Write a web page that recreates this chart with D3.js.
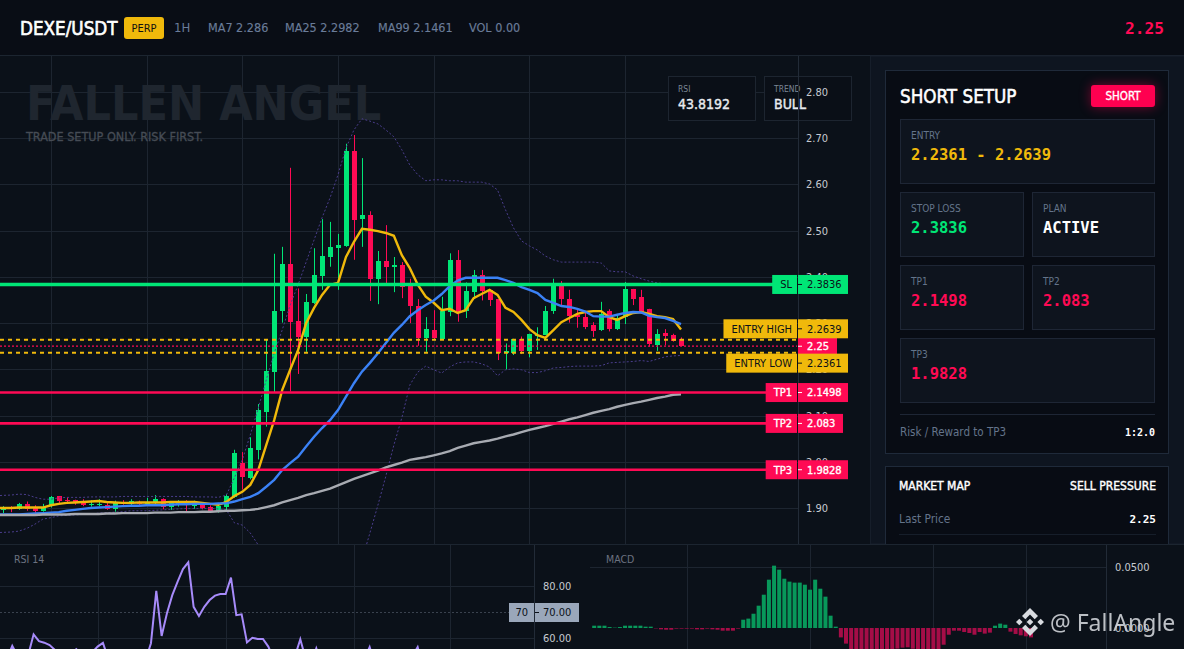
<!DOCTYPE html>
<html lang="en">
<head>
<meta charset="UTF-8">
<title>DEXE/USDT short setup</title>
<script src="https://d3js.org/d3.v7.min.js"></script>
<style>
  html, body { margin: 0; padding: 0; background: #0b1119; overflow: hidden; }
  svg { display: block; }
  text { font-family: "DejaVu Sans Condensed", "DejaVu Sans", sans-serif; }
  .mono { font-family: "DejaVu Sans Mono", monospace; font-weight: bold; }
</style>
</head>
<body>
<div id="chart"></div>
<script>
  // candles
  const opens = [1.895,1.901,1.897,1.909,1.901,1.894,1.904,1.926,1.918,1.917,1.914,1.907,1.907,1.907,1.898,1.914,1.909,1.914,1.909,1.911,1.919,1.902,1.909,1.911,1.905,1.908,1.902,1.893,1.902,1.923,1.997,1.965,2.026,2.108,2.194,2.326,2.428,2.305,2.269,2.343,2.402,2.443,2.463,2.467,2.673,2.525,2.534,2.396,2.434,2.421,2.426,2.383,2.337,2.268,2.285,2.265,2.325,2.437,2.327,2.368,2.404,2.372,2.352,2.236,2.236,2.265,2.240,2.272,2.274,2.326,2.383,2.352,2.318,2.313,2.296,2.285,2.326,2.287,2.313,2.374,2.357,2.331,2.252,2.279,2.274,2.265];
  const highs = [1.904,1.904,1.911,1.914,1.906,1.909,1.926,1.926,1.923,1.918,1.919,1.917,1.919,1.913,1.916,1.917,1.919,1.916,1.922,1.928,1.921,1.914,1.917,1.917,1.916,1.913,1.906,1.910,1.930,2.026,2.021,2.053,2.125,2.264,2.450,2.465,2.636,2.375,2.363,2.462,2.525,2.519,2.493,2.688,2.707,2.657,2.542,2.456,2.512,2.443,2.432,2.396,2.352,2.313,2.328,2.357,2.451,2.458,2.388,2.415,2.415,2.373,2.352,2.256,2.266,2.271,2.277,2.291,2.337,2.396,2.391,2.372,2.332,2.323,2.302,2.346,2.330,2.318,2.389,2.374,2.372,2.331,2.287,2.287,2.277,2.269];
  const lows = [1.889,1.891,1.896,1.894,1.890,1.892,1.901,1.909,1.910,1.907,1.904,1.903,1.904,1.896,1.892,1.907,1.906,1.906,1.906,1.908,1.897,1.896,1.903,1.891,1.898,1.897,1.891,1.890,1.892,1.922,1.940,1.962,2.005,2.076,2.150,2.301,2.152,2.190,2.238,2.341,2.372,2.422,2.372,2.465,2.437,2.465,2.348,2.341,2.383,2.367,2.354,2.300,2.251,2.238,2.264,2.264,2.315,2.303,2.311,2.356,2.349,2.337,2.220,2.200,2.231,2.233,2.226,2.242,2.274,2.320,2.339,2.301,2.290,2.287,2.270,2.283,2.282,2.285,2.298,2.339,2.320,2.249,2.240,2.252,2.260,2.250];
  const closes = [1.901,1.898,1.909,1.898,1.894,1.902,1.924,1.915,1.916,1.910,1.906,1.909,1.909,1.898,1.914,1.910,1.915,1.909,1.913,1.919,1.903,1.911,1.913,1.906,1.911,1.900,1.893,1.904,1.926,2.019,1.966,2.030,2.112,2.196,2.326,2.428,2.303,2.269,2.346,2.404,2.445,2.465,2.469,2.673,2.523,2.534,2.396,2.434,2.421,2.426,2.378,2.337,2.268,2.287,2.268,2.327,2.437,2.323,2.370,2.404,2.370,2.351,2.236,2.240,2.265,2.240,2.277,2.275,2.326,2.383,2.352,2.315,2.313,2.292,2.283,2.320,2.287,2.312,2.374,2.352,2.325,2.255,2.277,2.272,2.261,2.250];

  // moving averages and bands
  const ma7 = [1.900,1.900,1.901,1.901,1.901,1.901,1.906,1.909,1.911,1.912,1.913,1.914,1.915,1.913,1.912,1.911,1.911,1.912,1.912,1.912,1.912,1.913,1.913,1.913,1.913,1.911,1.909,1.907,1.913,1.926,1.935,1.950,1.982,2.036,2.090,2.155,2.199,2.242,2.300,2.333,2.361,2.383,2.387,2.443,2.476,2.504,2.502,2.499,2.495,2.489,2.447,2.419,2.383,2.357,2.344,2.328,2.331,2.322,2.328,2.354,2.363,2.372,2.361,2.333,2.324,2.307,2.287,2.274,2.268,2.285,2.302,2.311,2.320,2.324,2.326,2.326,2.313,2.307,2.315,2.322,2.324,2.320,2.315,2.313,2.309,2.286];
  const ma25 = [1.886,1.886,1.886,1.887,1.888,1.889,1.890,1.891,1.894,1.896,1.898,1.900,1.901,1.902,1.903,1.904,1.905,1.905,1.906,1.906,1.906,1.907,1.908,1.908,1.909,1.909,1.909,1.910,1.910,1.914,1.919,1.924,1.932,1.946,1.961,1.982,1.997,2.011,2.033,2.054,2.073,2.090,2.112,2.141,2.170,2.195,2.214,2.235,2.257,2.279,2.296,2.315,2.328,2.339,2.349,2.363,2.380,2.392,2.398,2.398,2.398,2.398,2.398,2.393,2.387,2.378,2.372,2.365,2.350,2.344,2.337,2.335,2.331,2.325,2.315,2.314,2.314,2.318,2.322,2.324,2.323,2.316,2.313,2.311,2.305,2.298];
  const ma99 = [1.885,1.885,1.885,1.885,1.885,1.886,1.886,1.886,1.886,1.887,1.887,1.887,1.887,1.888,1.888,1.889,1.889,1.889,1.889,1.890,1.890,1.890,1.891,1.891,1.891,1.892,1.892,1.893,1.894,1.894,1.895,1.896,1.898,1.902,1.906,1.912,1.917,1.922,1.928,1.932,1.937,1.942,1.949,1.956,1.963,1.969,1.975,1.981,1.988,1.993,1.998,2.004,2.007,2.010,2.014,2.018,2.023,2.030,2.035,2.040,2.043,2.046,2.050,2.055,2.059,2.064,2.069,2.073,2.077,2.082,2.087,2.092,2.096,2.101,2.106,2.110,2.114,2.119,2.123,2.127,2.130,2.134,2.138,2.141,2.145,2.146];
  const bbUpper = [1.927,1.928,1.930,1.929,1.923,1.919,1.919,1.922,1.923,1.923,1.923,1.924,1.924,1.924,1.924,1.925,1.925,1.925,1.925,1.925,1.925,1.925,1.925,1.925,1.924,1.924,1.924,1.923,1.928,1.965,2.004,2.058,2.116,2.177,2.235,2.285,2.339,2.383,2.432,2.480,2.528,2.571,2.621,2.679,2.718,2.742,2.737,2.731,2.718,2.703,2.675,2.642,2.621,2.608,2.610,2.610,2.608,2.608,2.605,2.605,2.605,2.601,2.588,2.545,2.506,2.478,2.467,2.458,2.445,2.437,2.432,2.432,2.432,2.432,2.432,2.430,2.413,2.411,2.411,2.402,2.396,2.391,2.387,2.385,2.385,2.385];
  const bbLower = [1.847,1.848,1.850,1.856,1.865,1.876,1.879,1.883,1.884,1.885,1.886,1.887,1.889,1.890,1.891,1.892,1.894,1.894,1.894,1.895,1.896,1.897,1.898,1.899,1.899,1.899,1.899,1.898,1.896,1.868,1.863,1.846,1.820,1.755,1.701,1.658,1.625,1.604,1.593,1.593,1.614,1.647,1.690,1.723,1.755,1.787,1.846,1.906,1.969,2.036,2.095,2.166,2.194,2.207,2.199,2.192,2.205,2.214,2.216,2.216,2.212,2.205,2.186,2.199,2.201,2.199,2.193,2.193,2.197,2.203,2.204,2.206,2.207,2.207,2.207,2.208,2.214,2.215,2.216,2.217,2.219,2.217,2.222,2.227,2.229,2.230];

  // lower panes
  const rsi = [50,52,57,53,50,53.5,61.4,58.8,58.2,57.3,55.4,53,51,53,55.7,54,52,54.5,56.7,58.1,52,50,48,49,47,48,49,51.5,58,78.1,60.8,69.5,76.5,81.7,86.5,89.1,72,68.5,72,74.6,76.3,76.9,76.9,83.2,68.8,69.1,58.3,60.1,59.6,59.6,56.7,52,48,47,49,53,59.5,52,50,56,50,47,45,44,46,47,48,50,52,56.5,50,46,44,43,45,47,50,53,56.5,49,46,45,47,46,44.5,43.8192];
  const macd = [0.0019,0.0019,0.0019,0.0008,0.0003,0.0008,0.0019,0.0019,0.0019,0.0019,0.0011,0.0011,-0.0003,-0.0011,-0.0014,-0.0014,-0.0005,-0.0005,-0.0005,-0.0005,-0.0011,-0.0011,-0.0005,-0.0011,-0.0014,-0.0022,-0.0022,-0.0022,-0.0005,0.0068,0.0077,0.0117,0.0183,0.0273,0.0396,0.0511,0.0478,0.0404,0.0380,0.0372,0.0372,0.0355,0.0314,0.0396,0.0322,0.0257,0.0101,0.0011,-0.0077,-0.0128,-0.0175,-0.0191,-0.0200,-0.0210,-0.0210,-0.0200,-0.0195,-0.0190,-0.0180,-0.0169,-0.0161,-0.0158,-0.0170,-0.0180,-0.0190,-0.0190,-0.0180,-0.0175,-0.0137,-0.0055,-0.0022,-0.0022,-0.0033,-0.0041,-0.0055,-0.0033,-0.0046,-0.0038,0.0019,0.0036,0.0027,-0.0030,-0.0049,-0.0060,-0.0068,-0.0077];

  // axes and levels
  const priceTicks = [1.9,2.0,2.1,2.2,2.3,2.4,2.5,2.6,2.7,2.8];
  const rsiTicks = [60,70,80];
  const macdTicks = [0,0.05];
  const mainGrid = [6,18,30,42,54,66,78];
  const lowerGrid = [18,42,66,84];
  const levelNames = ["SL","ENTRY HIGH","ENTRY LOW","TP1","TP2","TP3"];
  const levelPrices = [2.3836,2.2639,2.2361,2.1498,2.083,1.9828];
  const lastPrice = 2.25;

  const GREEN = "#00e676", RED = "#ff0a54", YELLOW = "#f0b90b";
  const GRID = "#1d2530", MUTED = "#64748b";

  const width = 1184, height = 649;
  const svg = d3.select("#chart").append("svg").attr("width", width).attr("height", height);

  const x = d3.scaleLinear().domain([0, 85]).range([3, 681]);
  const y = d3.scaleLinear().domain([1.9, 2.8]).range([508, 92]);
  const xRsi = d3.scaleLinear().domain([0, 85]).range([1.6, 455]);
  const yRsi = d3.scaleLinear().domain([60, 80]).range([638, 586]);
  const xMacd = d3.scaleLinear().domain([0, 85]).range([594.2, 1031]);
  const yMacd = d3.scaleLinear().domain([0, 0.05]).range([628, 567]);

  // the original face has a narrow bold, so bold here is the regular face with a thin outline
  function label(g, px, py, str, o = {}) {
    const t = g.append("text")
      .attr("x", px).attr("y", py)
      .attr("dy", "0.35em")
      .attr("text-anchor", o.anchor || "start")
      .attr("class", o.mono ? "mono" : null)
      .attr("font-size", o.size || 11)
      .attr("fill", o.fill || "#fff")
      .text(str);
    if (o.bold) t.attr("stroke", o.fill || "#fff").attr("stroke-width", o.bold);
    return t;
  }

  svg.append("rect").attr("width", width).attr("height", height).attr("fill", "#0b1119");

  // clip regions
  const defs = svg.append("defs");
  defs.append("clipPath").attr("id", "mainClip").append("rect").attr("x", 0).attr("y", 56).attr("width", 798).attr("height", 488);

  // main pane grid
  const main = svg.append("g");
  main.selectAll("line.v").data(mainGrid).enter().append("line")
    .attr("x1", d => Math.round(x(d)) + 0.5).attr("x2", d => Math.round(x(d)) + 0.5).attr("y1", 56).attr("y2", 544)
    .attr("stroke", GRID);
  main.selectAll("line.h").data(priceTicks).enter().append("line")
    .attr("x1", 0).attr("x2", 798).attr("y1", d => Math.round(y(d)) + 0.5).attr("y2", d => Math.round(y(d)) + 0.5)
    .attr("stroke", GRID);

  // watermark
  label(main, 26, 103, "FALLEN ANGEL", { size: 48, fill: "#1f262f" }).attr("font-weight", "bold");
  label(main, 26, 137, "TRADE SETUP ONLY. RISK FIRST.", { size: 12.5, bold: 0.3, fill: "#464c55" });

  // info boxes
  [[668, "RSI", "43.8192"], [764, "TREND", "BULL"]].forEach(b => {
    main.append("rect").attr("x", b[0] + 0.5).attr("y", 76.5).attr("width", 87).attr("height", 44)
      .attr("fill", "#0a0f17").attr("stroke", GRID);
    label(main, b[0] + 10, 89, b[1], { size: 8.5, fill: "#7b8696" });
    label(main, b[0] + 10, 104, b[2], { size: 14, bold: 0.4, fill: "#e8ebef" });
  });

  // price axis
  const yAxis = d3.axisRight(y).tickValues(priceTicks).tickFormat(d3.format(".2f")).tickSize(0).tickPadding(8);
  const yAxisG = svg.append("g").attr("transform", "translate(798,0)").call(yAxis);
  yAxisG.select(".domain").remove();
  yAxisG.append("line").attr("x1", 0.5).attr("x2", 0.5).attr("y1", 56).attr("y2", 544).attr("stroke", "#222b37");
  yAxisG.selectAll("text").attr("fill", "#c6cad0").attr("font-size", 11).attr("font-family", null);

  // candles
  const plot = svg.append("g").attr("clip-path", "url(#mainClip)");
  const idx = d3.range(opens.length);
  const colorOf = i => closes[i] >= opens[i] ? GREEN : RED;
  plot.selectAll(".wick").data(idx).enter().append("line")
    .attr("x1", i => Math.round(x(i)) + 0.5).attr("x2", i => Math.round(x(i)) + 0.5)
    .attr("y1", i => y(highs[i])).attr("y2", i => y(lows[i]))
    .attr("stroke", colorOf);
  plot.selectAll(".body").data(idx).enter().append("rect")
    .attr("x", i => Math.round(x(i)) - 2).attr("width", 5)
    .attr("y", i => y(Math.max(opens[i], closes[i])))
    .attr("height", i => Math.max(1, Math.abs(y(opens[i]) - y(closes[i]))))
    .attr("fill", colorOf)
    .attr("shape-rendering", "crispEdges");

  // bands and averages, the first point runs off the left edge
  const line = d3.line().x((d, i) => i === 0 ? 0 : x(i)).y(d => y(d)).curve(d3.curveLinear);
  [bbUpper, bbLower].forEach(s => {
    plot.append("path").datum(s).attr("d", line).attr("fill", "none")
      .attr("stroke", "#4a3d8c").attr("stroke-width", 1).attr("stroke-dasharray", "2,2");
  });
  [[ma7, YELLOW, 2.4], [ma25, "#3b82f6", 2.4], [ma99, "#a8abb2", 2.4]].forEach(s => {
    plot.append("path").datum(s[0]).attr("d", line).attr("fill", "none")
      .attr("stroke", s[1]).attr("stroke-width", s[2]);
  });

  // level lines
  const levelColor = d => d.startsWith("SL") ? GREEN : d.startsWith("TP") ? RED : YELLOW;
  levelNames.forEach((name, i) => {
    const isEntry = name.startsWith("ENTRY");
    plot.append("line").attr("x1", 0).attr("x2", 797)
      .attr("y1", y(levelPrices[i])).attr("y2", y(levelPrices[i]))
      .attr("stroke", levelColor(name))
      .attr("stroke-width", name === "SL" ? 3.4 : isEntry ? 2 : 2.6)
      .attr("stroke-dasharray", isEntry ? "4,4" : null);
  });
  plot.append("line").attr("x1", 0).attr("x2", 797)
    .attr("y1", y(lastPrice)).attr("y2", y(lastPrice))
    .attr("stroke", RED).attr("stroke-width", 1.2).attr("stroke-dasharray", "2,2");

  // price tags on the axis
  const tags = svg.append("g");
  function tag(name, value, offset, color, textColor) {
    const py = y(+value) + offset;
    const rightW = String(value).length > 5 ? 50 : String(value).length > 4 ? 45 : 39;
    const weight = textColor === "#fff" ? 0.35 : 0;
    if (name) {
      const t = label(tags, 792, py, name, { anchor: "end", fill: textColor, size: 11, bold: weight });
      const w = t.node().getComputedTextLength();
      tags.insert("rect", () => t.node())
        .attr("x", 797 - w - 13).attr("y", py - 9.5).attr("width", w + 13).attr("height", 19)
        .attr("fill", color);
    }
    tags.append("rect").attr("x", 798).attr("y", py - 9.5).attr("width", rightW).attr("height", 19).attr("fill", color);
    tags.append("line").attr("x1", 798).attr("x2", 802).attr("y1", py).attr("y2", py).attr("stroke", textColor);
    label(tags, 807, py, value, { fill: textColor, size: 11, bold: weight });
  }
  tag("", "2.25", 0, RED, "#fff");
  tag("SL", "2.3836", 0, GREEN, "#0b1119");
  tag("ENTRY HIGH", "2.2639", -11, YELLOW, "#0b1119");
  tag("ENTRY LOW", "2.2361", 10.5, YELLOW, "#0b1119");
  tag("TP1", "2.1498", 0, RED, "#fff");
  tag("TP2", "2.083", 0, RED, "#fff");
  tag("TP3", "1.9828", 0, RED, "#fff");

  // header
  svg.append("rect").attr("width", width).attr("height", 55).attr("fill", "#090d15");
  svg.append("line").attr("x1", 0).attr("x2", width).attr("y1", 55.5).attr("y2", 55.5).attr("stroke", "#1c2530");
  label(svg, 20, 28, "DEXE/USDT", { size: 18.7, bold: 0.6 });
  svg.append("rect").attr("x", 124).attr("y", 17).attr("width", 40).attr("height", 22).attr("rx", 3).attr("fill", YELLOW);
  label(svg, 144, 28, "PERP", { size: 11, fill: "#111", anchor: "middle" });
  label(svg, 174, 27, "1H", { size: 13, fill: "#6a7c99" });
  [[208, "MA7 2.286"], [285, "MA25 2.2982"], [378, "MA99 2.1461"], [469, "VOL 0.00"]].forEach(d => {
    label(svg, d[0], 28, d[1], { size: 12.5, bold: 0.15, fill: "#6a7c99" });
  });
  label(svg, 1164, 28, "2.25", { size: 16.2, mono: true, fill: RED, anchor: "end" });

  // side panel
  const side = svg.append("g");
  side.append("rect").attr("x", 870.5).attr("y", 56).attr("width", 314).attr("height", 488).attr("fill", "#0e1520").attr("stroke", "#161e2a");
  const panel = (py, h) => side.append("rect").attr("x", 885.5).attr("y", py + 0.5).attr("width", 283).attr("height", h)
    .attr("fill", "#080c14").attr("stroke", "#1f2a3a");
  panel(70, 383);
  panel(466, 90);
  label(side, 900, 96, "SHORT SETUP", { size: 18.7, bold: 0.5 });
  side.append("rect").attr("x", 1091).attr("y", 85).attr("width", 64).attr("height", 22).attr("rx", 3).attr("fill", "#ff0050")
    .style("filter", "drop-shadow(0 0 6px rgba(255,0,80,.45))");
  label(side, 1123, 96, "SHORT", { size: 11.5, bold: 0.35, anchor: "middle" });

  function card(px, py, w, h, name, value, color) {
    side.append("rect").attr("x", px + 0.5).attr("y", py + 0.5).attr("width", w).attr("height", h)
      .attr("fill", "#0e141e").attr("stroke", "#1e2635");
    label(side, px + 11, py + 16, name, { size: 10, fill: MUTED });
    label(side, px + 11, py + 36, value, { size: 15.5, mono: true, fill: color });
  }
  card(900, 119, 254, 64, "ENTRY", "2.2361 - 2.2639", YELLOW);
  card(900, 192, 123, 64, "STOP LOSS", "2.3836", GREEN);
  card(1032, 192, 122, 64, "PLAN", "ACTIVE", "#fff");
  card(900, 265, 123, 64, "TP1", "2.1498", RED);
  card(1032, 265, 122, 64, "TP2", "2.083", RED);
  card(900, 338, 254, 64, "TP3", "1.9828", RED);
  side.append("line").attr("x1", 900).attr("x2", 1155).attr("y1", 414.5).attr("y2", 414.5).attr("stroke", "#1e2635");
  label(side, 900, 432, "Risk / Reward to TP3", { size: 11.5, fill: MUTED });
  label(side, 1155, 432, "1:2.0", { size: 10, mono: true, anchor: "end" });
  label(side, 899, 486, "MARKET MAP", { size: 12, bold: 0.4 });
  label(side, 1156, 486, "SELL PRESSURE", { size: 12, bold: 0.4, anchor: "end" });
  label(side, 899, 519, "Last Price", { size: 11.8, fill: MUTED });
  label(side, 1156, 519, "2.25", { size: 11, mono: true, anchor: "end" });
  side.append("line").attr("x1", 899).attr("x2", 1156).attr("y1", 534.5).attr("y2", 534.5).attr("stroke", "#161e2a");

  // lower panes
  const lower = svg.append("g");
  lower.append("rect").attr("y", 544).attr("width", width).attr("height", 105).attr("fill", "#0b1119");
  lower.append("line").attr("x1", 0).attr("x2", width).attr("y1", 544.5).attr("y2", 544.5).attr("stroke", "#1c2530");

  // RSI
  lower.selectAll(".rv").data(lowerGrid).enter().append("line")
    .attr("x1", d => Math.round(xRsi(d)) + 0.5).attr("x2", d => Math.round(xRsi(d)) + 0.5).attr("y1", 545).attr("y2", 649).attr("stroke", GRID);
  lower.selectAll(".rh").data([60, 80]).enter().append("line")
    .attr("x1", 0).attr("x2", 534).attr("y1", d => yRsi(d) + 0.5).attr("y2", d => yRsi(d) + 0.5).attr("stroke", GRID);
  lower.append("line").attr("x1", 0).attr("x2", 534).attr("y1", yRsi(70) + 0.5).attr("y2", yRsi(70) + 0.5)
    .attr("stroke", "#3a424e").attr("stroke-dasharray", "2,2");
  lower.append("line").attr("x1", 534.5).attr("x2", 534.5).attr("y1", 545).attr("y2", 649).attr("stroke", "#222b37");
  label(lower, 14, 559, "RSI 14", { size: 10.5, fill: "#6b7280" });
  const rsiLine = d3.line().x((d, i) => xRsi(i)).y(d => yRsi(d));
  lower.append("path").datum(rsi).attr("d", rsiLine).attr("fill", "none").attr("stroke", "#a78bfa").attr("stroke-width", 2);
  const rsiAxis = d3.axisRight(yRsi).tickValues(rsiTicks).tickFormat(d3.format(".2f")).tickSize(0).tickPadding(9);
  const rsiAxisG = lower.append("g").attr("transform", "translate(534,0)").call(rsiAxis);
  rsiAxisG.select(".domain").remove();
  rsiAxisG.selectAll("text").attr("fill", "#c6cad0").attr("font-size", 11).attr("font-family", null);
  lower.append("rect").attr("x", 509).attr("y", 603).attr("width", 25).attr("height", 19).attr("fill", "#9aa7ba");
  lower.append("rect").attr("x", 535).attr("y", 603).attr("width", 44).attr("height", 19).attr("fill", "#9aa7ba");
  label(lower, 528, 612.5, "70", { size: 11, fill: "#0b1119", anchor: "end" });
  lower.append("line").attr("x1", 535).attr("x2", 539).attr("y1", 612.5).attr("y2", 612.5).attr("stroke", "#0b1119");
  label(lower, 543, 612.5, "70.00", { size: 11, fill: "#0b1119" });

  // MACD
  lower.selectAll(".mv").data(lowerGrid).enter().append("line")
    .attr("x1", d => Math.round(xMacd(d)) + 0.5).attr("x2", d => Math.round(xMacd(d)) + 0.5).attr("y1", 545).attr("y2", 649).attr("stroke", GRID);
  lower.append("line").attr("x1", 590).attr("x2", 1106).attr("y1", yMacd(0.05) + 0.5).attr("y2", yMacd(0.05) + 0.5).attr("stroke", GRID);
  lower.append("line").attr("x1", 1106.5).attr("x2", 1106.5).attr("y1", 545).attr("y2", 649).attr("stroke", "#222b37");
  label(lower, 606, 559, "MACD", { size: 10.5, fill: "#6b7280" });
  lower.selectAll(".bar").data(macd).enter().append("rect")
    .attr("x", (d, i) => xMacd(i) - 2).attr("width", 4)
    .attr("y", d => d >= 0 ? yMacd(d) : yMacd(0))
    .attr("height", d => Math.abs(yMacd(d) - yMacd(0)))
    .attr("fill", d => d >= 0 ? "#08985a" : "#a50d47");
  const macdAxis = d3.axisRight(yMacd).tickValues(macdTicks).tickFormat(d3.format(".4f")).tickSize(0).tickPadding(9);
  const macdAxisG = lower.append("g").attr("transform", "translate(1106,0)").call(macdAxis);
  macdAxisG.select(".domain").remove();
  macdAxisG.selectAll("text").attr("fill", "#c6cad0").attr("font-size", 11).attr("font-family", null);

  // handle watermark
  const logo = svg.append("g").attr("transform", "translate(1030,622)").attr("fill", "#d8dbe0");
  logo.append("path").attr("d",
    "M0,-14L8,-6L4.7,-2.7L0,-7.4L-4.7,-2.7L-8,-6Z M0,14L8,6L4.7,2.7L0,7.4L-4.7,2.7L-8,6Z M-14,0L-10.7,-3.3L-7.4,0L-10.7,3.3Z M14,0L10.7,-3.3L7.4,0L10.7,3.3Z M0,-3.3L3.3,0L0,3.3L-3.3,0Z");
  svg.append("text").attr("x", 1050).attr("y", 623).attr("dy", "0.35em")
    .attr("font-size", 23).attr("fill", "#d0d3d8").attr("opacity", 0.9)
    .style("font-family", "'Noto Sans', sans-serif").text("@ FallAngle");
</script>
</body>
</html>
